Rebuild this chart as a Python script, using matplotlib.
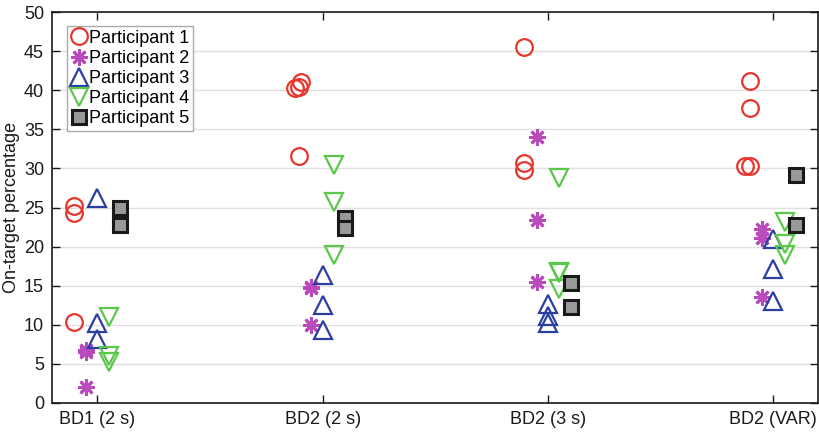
import matplotlib
matplotlib.use("Agg")
import matplotlib.pyplot as plt
import numpy as np

plt.rcParams['font.family'] = ['Liberation Sans', 'DejaVu Sans']

categories = ["BD1 (2 s)", "BD2 (2 s)", "BD2 (3 s)", "BD2 (VAR)"]
participants = ["Participant 1", "Participant 2", "Participant 3", "Participant 4", "Participant 5"]

# values per participant per condition
p1 = [[25.2, 24.3, 10.4], [41.0, 40.3, 40.4, 31.6], [45.6, 30.7, 29.8], [41.2, 37.7, 30.3, 30.3]]
p2 = [[6.8, 6.5, 2.0], [14.7, 14.8, 10.0], [34.0, 23.4, 15.5], [22.3, 21.1, 13.6]]
p3 = [[26.2, 10.2, 8.2], [16.4, 12.5, 9.4], [12.6, 11.1, 10.2], [21.0, 17.2, 13.0]]
p4 = [[11.0, 6.0, 5.2], [30.5, 25.7, 18.9], [28.8, 16.8, 16.6, 14.6], [23.2, 20.4, 18.9]]
p5 = [[25.0, 22.8], [23.7, 22.4], [15.3, 12.3], [29.2, 22.8]]
# small horizontal jitter within overlapping points
p1_dx = [[0, 0, 0], [0.01, -0.02, 0.0, 0.0], [0, 0, 0], [0, 0, -0.02, 0.0]]

data = [p1, p2, p3, p4, p5]
offsets = [-0.105, -0.05, 0.0, 0.05, 0.1]

styles = [
    dict(marker='o', mfc='none', mec='#e8352b', ms=12, mew=1.6),
    dict(marker=(8, 2, 0), color='#b94bbd', mec='#b94bbd', ms=12, mew=2.0),
    dict(marker='^', mfc='none', mec='#2b3fa3', ms=13, mew=1.6),
    dict(marker='v', mfc='none', mec='#5bc84b', ms=13, mew=1.6),
    dict(marker='s', mfc='#999999', mec='#1a1a1a', ms=9.5, mew=2.2),
]

fig = plt.figure(figsize=(8.2, 4.33), dpi=100)
ax = fig.add_axes([0.0638, 0.0693, 0.998 - 0.0638, 0.972 - 0.0693])

for pi, (pdata, off, st) in enumerate(zip(data, offsets, styles)):
    xs, ys = [], []
    for ci, vals in enumerate(pdata):
        for k, v in enumerate(vals):
            dx = p1_dx[ci][k] if pi == 0 else 0.0
            xs.append(ci + 1 + off + dx)
            ys.append(v)
    ax.plot(xs, ys, linestyle='none', label=participants[pi], **st)

ax.set_xlim(0.8, 4.2)
ax.set_ylim(0, 50)
ax.set_xticks(range(1, 5))
ax.set_xticklabels(categories)
ax.set_yticks(np.arange(0, 51, 5))
ax.yaxis.grid(True, color='#e0e0e0', lw=1)
ax.set_axisbelow(True)
ax.tick_params(direction='in', top=True, right=True, labelsize=13, length=6, width=1, colors='#1a1a1a', pad=6)
for s in ax.spines.values():
    s.set_linewidth(1.2)
    s.set_color('#1a1a1a')
ax.set_ylabel("On-target percentage", fontsize=13, color='#1a1a1a', labelpad=3)

leg = ax.legend(loc='upper left', bbox_to_anchor=(0.019, 0.964), fontsize=13, frameon=True,
                fancybox=False, edgecolor='#aaaaaa', framealpha=1, handlelength=0.9,
                handletextpad=0.15, borderpad=0.2, labelspacing=0.17, borderaxespad=0)
leg.get_frame().set_linewidth(1.0)

fig.savefig("out.png", dpi=100)
